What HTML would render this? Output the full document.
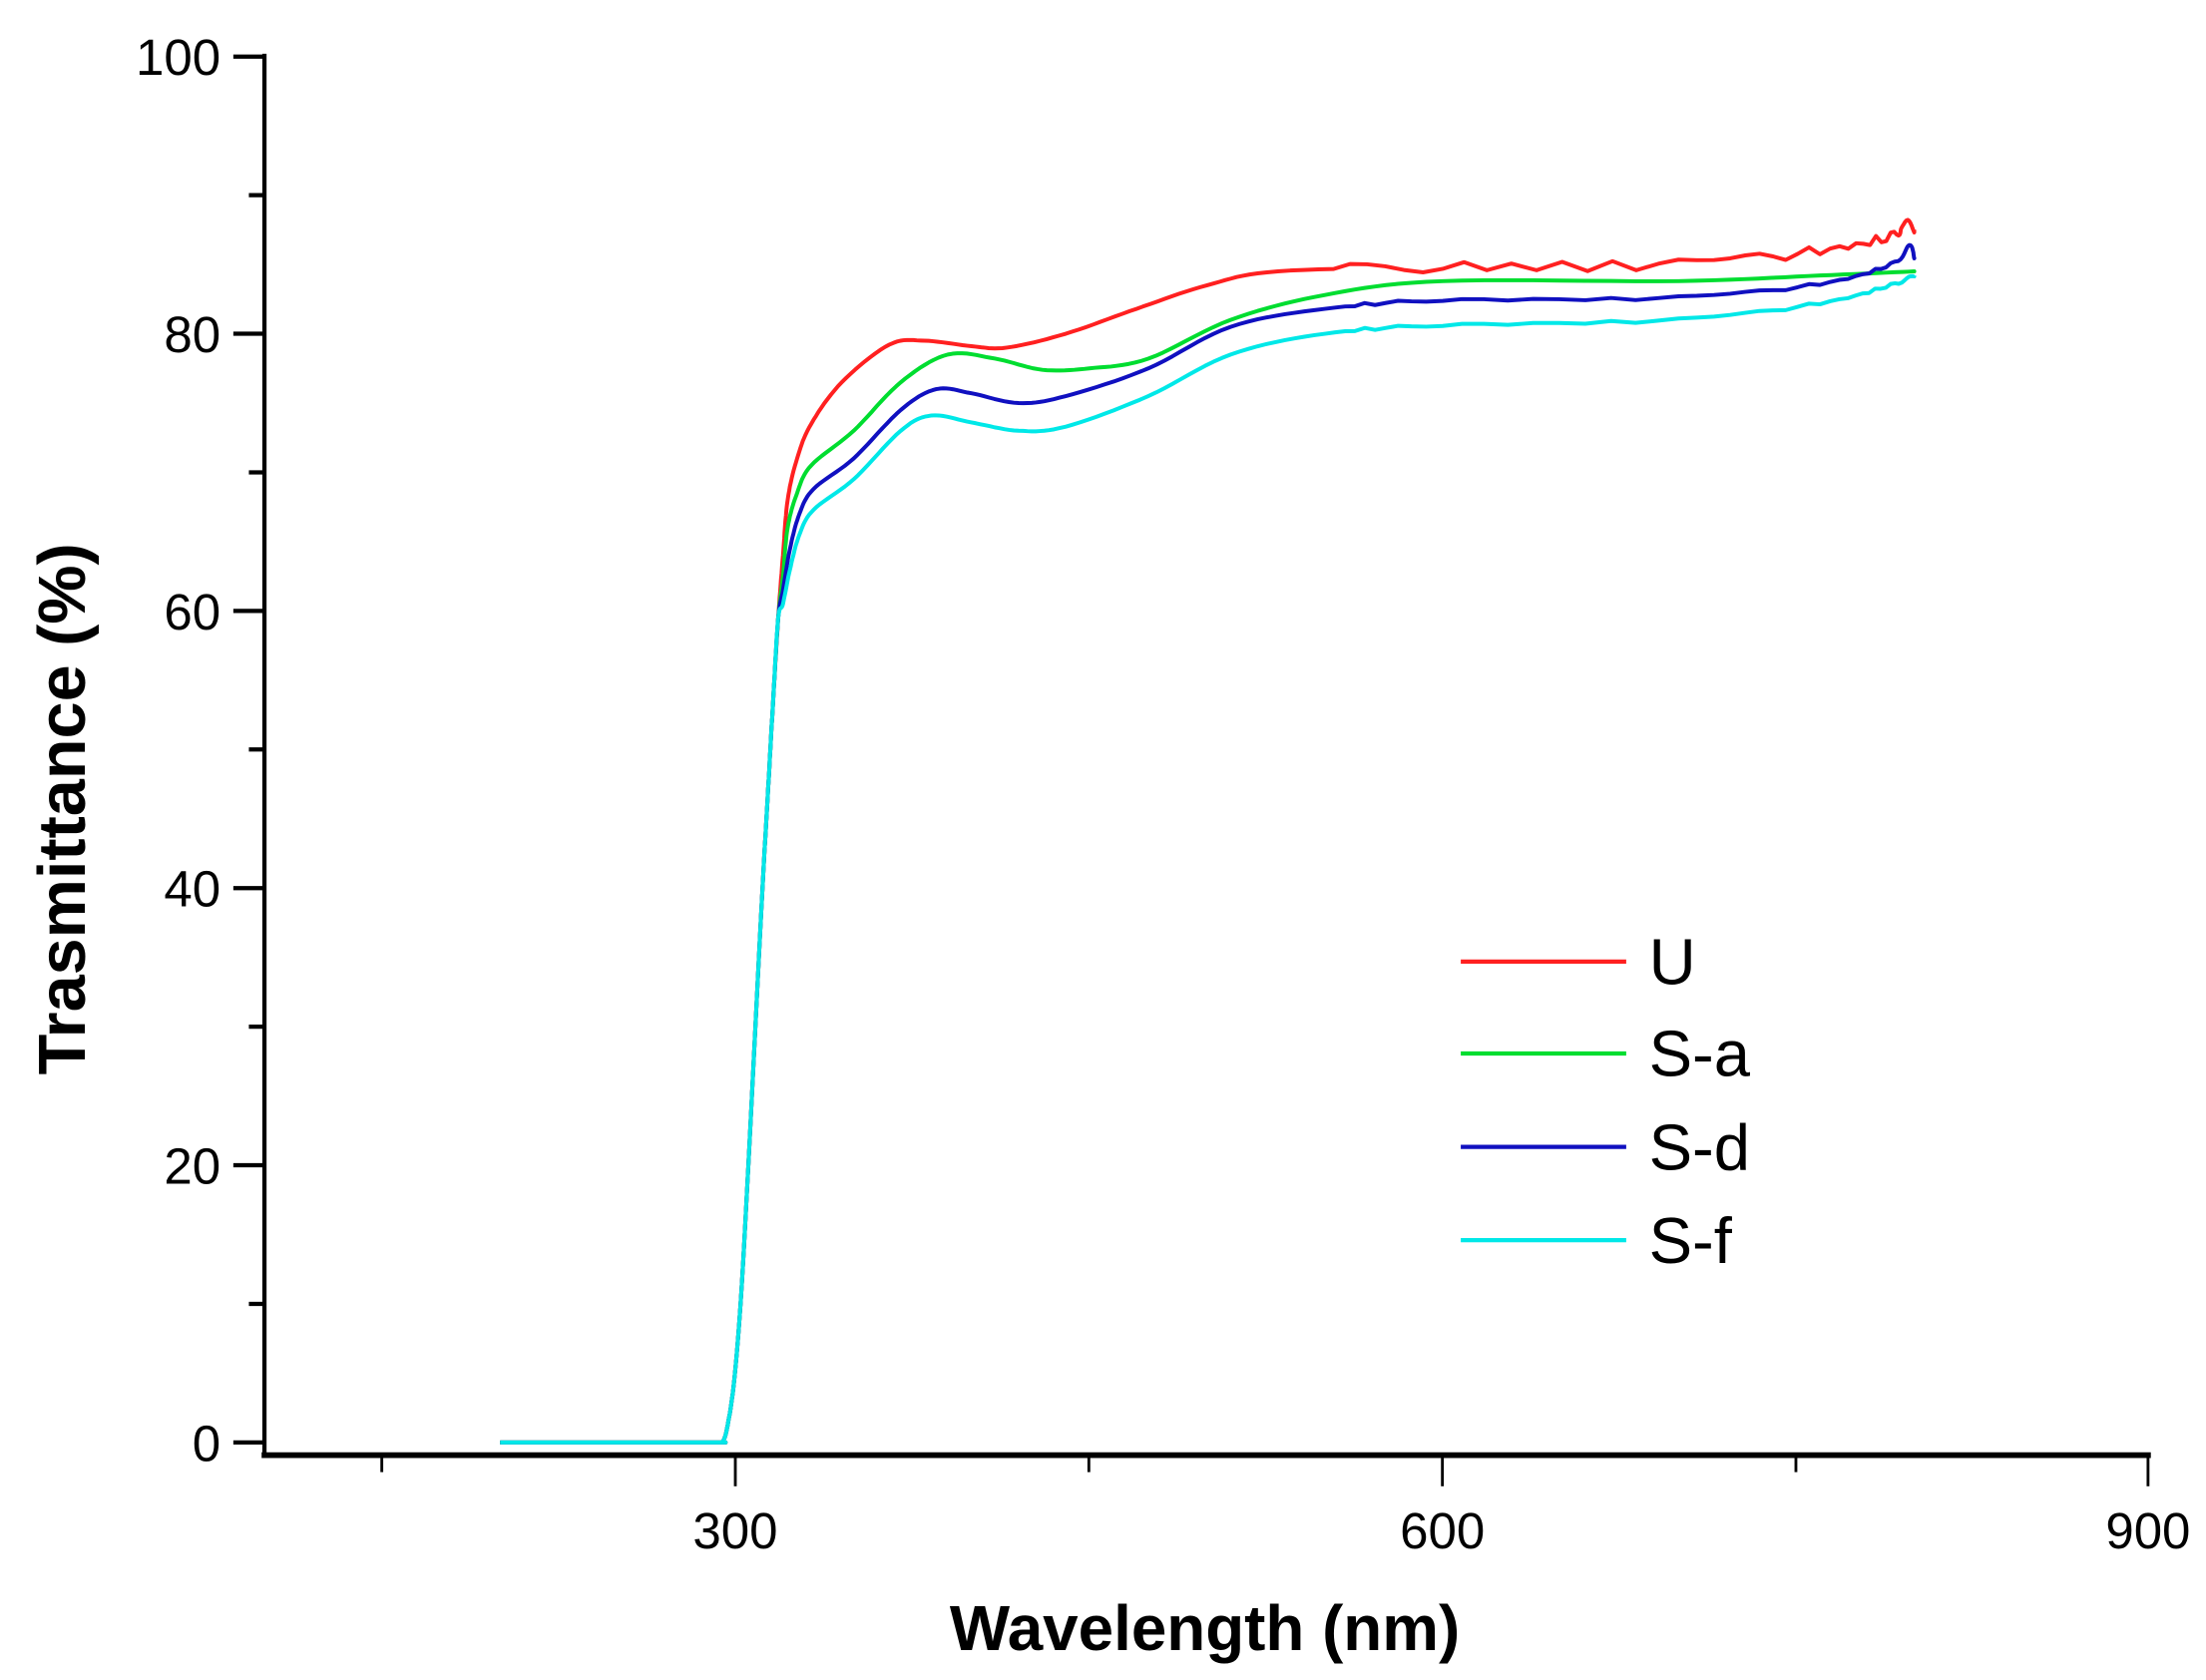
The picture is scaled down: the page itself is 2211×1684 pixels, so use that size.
<!DOCTYPE html>
<html><head><meta charset="utf-8"><style>
html,body{margin:0;padding:0;background:#fff;}
svg{display:block;}
text{font-family:"Liberation Sans",Arial,sans-serif;}
</style></head><body>
<svg id="s" width="2211" height="1684" viewBox="0 0 1560 1188" preserveAspectRatio="none" xmlns="http://www.w3.org/2000/svg">
<g stroke="#000" fill="none">
<line x1="187" y1="38" x2="187" y2="1030" stroke-width="3"/>
<line x1="185" y1="1029" x2="1521" y2="1029" stroke-width="4"/>
<g stroke-width="3">
<line x1="165" y1="40" x2="187" y2="40"/><line x1="165" y1="236" x2="187" y2="236"/>
<line x1="165" y1="432" x2="187" y2="432"/><line x1="165" y1="628" x2="187" y2="628"/>
<line x1="165" y1="824" x2="187" y2="824"/><line x1="165" y1="1020" x2="187" y2="1020"/>
<line x1="176" y1="138" x2="187" y2="138"/><line x1="176" y1="334" x2="187" y2="334"/>
<line x1="176" y1="530" x2="187" y2="530"/><line x1="176" y1="726" x2="187" y2="726"/>
<line x1="176" y1="922" x2="187" y2="922"/>
</g>
<g stroke-width="2">
<line x1="520" y1="1029" x2="520" y2="1051"/><line x1="1020" y1="1029" x2="1020" y2="1051"/>
<line x1="1519" y1="1029" x2="1519" y2="1051"/>
<line x1="270" y1="1029" x2="270" y2="1041"/><line x1="770" y1="1029" x2="770" y2="1041"/>
<line x1="1270" y1="1029" x2="1270" y2="1041"/>
</g>
</g>
<g font-size="36" text-anchor="end" fill="#000">
<text x="156" y="53">100</text><text x="156" y="249">80</text><text x="156" y="445">60</text>
<text x="156" y="641">40</text><text x="156" y="837">20</text><text x="156" y="1033">0</text>
</g>
<g font-size="36" text-anchor="middle" fill="#000">
<text x="520" y="1095">300</text><text x="1020" y="1095">600</text><text x="1519" y="1095">900</text>
</g>
<text x="852" y="1167" font-size="45" font-weight="bold" text-anchor="middle">Wavelength (nm)</text>
<text transform="translate(60,572) rotate(-90)" font-size="47" font-weight="bold" text-anchor="middle">Trasmittance (%)</text>
<g id="curves" fill="none" stroke-width="2.8" stroke-linejoin="round"></g>
<g stroke-width="3">
<line x1="1033" y1="680" x2="1150" y2="680" stroke="#ff2020"/>
<line x1="1033" y1="745" x2="1150" y2="745" stroke="#00dd30"/>
<line x1="1033" y1="811" x2="1150" y2="811" stroke="#1010c0"/>
<line x1="1033" y1="877" x2="1150" y2="877" stroke="#00e8e8"/>
</g>
<g font-size="46" fill="#000">
<text x="1166" y="696">U</text><text x="1166" y="761">S-a</text>
<text x="1166" y="827">S-d</text><text x="1166" y="893">S-f</text>
</g>
</svg>
<script>
function X(nm){return 187+(nm-100)*500/300;}
function Y(v){return 1020-v*9.8;}
var base=[[200,0],[250,0],[292,0],[294,0],[296,0.8],[299,4],[302,10],[305,19],[308,29],[311,39],[314,48],[316,54],[318,59.5]];
var series=[
 ["#ff2020",[[320,64],[322,68],[326,71],[332,73.5],[345,76.5],[365,79.2],[380,79.5],[400,79.1],[415,79],[440,80],[470,81.8],[500,83.5],[530,84.5],[600,84.8],[700,85],[760,86],[790,87],[795,88],[800,87.5]],1.0],
 ["#00dd30",[[320,62.5],[322,66],[326,68.5],[332,70.5],[350,73],[370,76.5],[390,78.5],[410,78.2],[430,77.4],[450,77.5],[475,78.2],[510,81],[550,82.8],[600,83.8],[700,83.8],[760,84.2],[800,84.5]],0],
 ["#1010c0",[[320,61.5],[323,64.5],[327,67],[333,68.8],[350,71],[370,74.5],[385,76],[400,75.7],[420,75],[440,75.5],[475,77.5],[510,80.5],[550,81.8],[600,82.4],[700,82.6],[760,83.6],[790,85],[798,86.3],[800,85.5]],0.3],
 ["#00e8e8",[[320,60.5],[323,63],[327,65.5],[333,67.3],[350,69.5],[370,73],[383,74.1],[400,73.6],[420,73],[440,73.3],[475,75.5],[510,78.5],[550,80],[600,80.6],[700,81],[760,82.2],[790,83.5],[800,84.2]],0.3]
];
var g=document.getElementById('curves');
series.forEach(function(s){
 var pts=base.concat(s[1]);
 var d="";
 for(var i=0;i<pts.length-1;i++){
  var p0=pts[Math.max(0,i-1)],p1=pts[i],p2=pts[i+1],p3=pts[Math.min(pts.length-1,i+2)];
  for(var t=0;t<1;t+=0.1){
   var t2=t*t,t3=t2*t;
   var f=function(a,b,c,e){return 0.5*((2*b)+(-a+c)*t+(2*a-5*b+4*c-e)*t2+(-a+3*b-3*c+e)*t3);};
   var nm=f(p0[0],p1[0],p2[0],p3[0]),v=f(p0[1],p1[1],p2[1],p3[1]);
   if(v<0)v=0;
   if(nm>560)v+=s[2]*0.35*Math.sin(nm*0.9);
   d+=(d?"L":"M")+X(nm).toFixed(1)+","+Y(v).toFixed(1);
  }
 }
 var l=pts[pts.length-1];d+="L"+X(l[0])+","+Y(l[1]);
 var p=document.createElementNS("http://www.w3.org/2000/svg","path");
 p.setAttribute("d",d);p.setAttribute("stroke",s[0]);g.appendChild(p);
});
</script>
</body></html>
